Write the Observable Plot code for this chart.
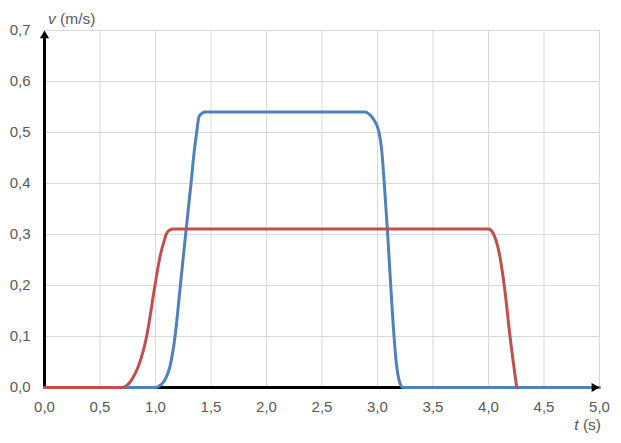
<!DOCTYPE html>
<html>
<head>
<meta charset="utf-8">
<script src="https://cdn.jsdelivr.net/npm/d3@7"></script>
<script src="https://cdn.jsdelivr.net/npm/@observablehq/plot@0.6"></script>
<style>
  html, body { margin: 0; padding: 0; background: #fff; }
</style>
</head>
<body>
<div id="chart"></div>
<script>
// Blue series: t (s), v (m/s)
const blueT = [0, 1.0, 1.025, 1.085, 1.13, 1.176, 1.224, 1.266, 1.32, 1.35, 1.371, 1.392, 1.42, 1.45,
               2.887, 2.93, 2.97, 3.014, 3.038, 3.061, 3.092, 3.119, 3.149, 3.173, 3.194, 3.23, 5.0];
const blueV = [0, 0, 0.002, 0.015, 0.041, 0.1, 0.2, 0.289, 0.4, 0.465, 0.5, 0.531, 0.538, 0.54,
               0.54, 0.535, 0.524, 0.5, 0.465, 0.4, 0.3, 0.2, 0.1, 0.041, 0.015, 0, 0];
// Red series
const redT = [0, 0.70, 0.785, 0.845, 0.92, 0.995, 1.04, 1.08, 1.10, 1.13, 1.16,
              4.0, 4.043, 4.097, 4.142, 4.194, 4.254];
const redV = [0, 0, 0.015, 0.041, 0.1, 0.2, 0.256, 0.289, 0.302, 0.309, 0.311,
              0.311, 0.302, 0.263, 0.2, 0.1, 0];

const xTicks = [0, 0.5, 1, 1.5, 2, 2.5, 3, 3.5, 4, 4.5, 5];
const yTicks = [0, 0.1, 0.2, 0.3, 0.4, 0.5, 0.6, 0.7];
const xTickLabels = ["0,0","0,5","1,0","1,5","2,0","2,5","3,0","3,5","4,0","4,5","5,0"];
const yTickLabels = ["0,0","0,1","0,2","0,3","0,4","0,5","0,6","0,7"];
const yAxisLabel = ["v", " (m/s)"];
const xAxisLabel = ["t", " (s)"];

const blue = blueT.map((t, i) => ({t, v: blueV[i]}));
const red = redT.map((t, i) => ({t, v: redV[i]}));
const xMax = xTicks[xTicks.length - 1];
const yMax = yTicks[yTicks.length - 1];

const chart = Plot.plot({
  width: 621,
  height: 443,
  marginLeft: 44,
  marginRight: 22,
  marginTop: 30,
  marginBottom: 56,
  style: {fontFamily: "'Liberation Sans', Arial, sans-serif", fontSize: "15px", color: "#595959", background: "#fff"},
  x: {domain: [0, xMax], ticks: xTicks, tickSize: 0, tickPadding: 14,
      tickFormat: d => xTickLabels[xTicks.indexOf(d)], label: null},
  y: {domain: [0, yMax], ticks: yTicks, tickSize: 0, tickPadding: 14,
      tickFormat: d => yTickLabels[yTicks.indexOf(d)], label: null},
  marks: [
    Plot.ruleX(xTicks, {stroke: "#d9d9d9", strokeWidth: 1}),
    Plot.ruleY(yTicks, {stroke: "#d9d9d9", strokeWidth: 1}),
    Plot.ruleY([0], {x1: 0, x2: xMax * 0.99, stroke: "black", strokeWidth: 3}),
    Plot.ruleX([0], {y1: 0, y2: yMax * 0.985, stroke: "black", strokeWidth: 3}),
    Plot.line(blue, {x: "t", y: "v", stroke: "#4f81bd", strokeWidth: 3, curve: "monotone-x"}),
    Plot.line(red, {x: "t", y: "v", stroke: "#c0504d", strokeWidth: 3, curve: "monotone-x"}),
    Plot.dot([{x: xMax, y: 0}], {x: "x", y: "y", symbol: "triangle", r: 3.4, fill: "black", stroke: null, rotate: 90, dx: -5.2}),
    Plot.dot([{x: 0, y: yMax}], {x: "x", y: "y", symbol: "triangle", r: 3.4, fill: "black", stroke: null, dy: 5.2})
  ]
});

document.getElementById("chart").appendChild(chart);

const svg = d3.select(chart);
const ty = svg.append("text")
  .attr("x", 48).attr("y", 24)
  .attr("text-anchor", "start")
  .attr("fill", "#595959")
  .style("font-size", "15.5px");
ty.append("tspan").attr("font-style", "italic").text(yAxisLabel[0]);
ty.append("tspan").text(yAxisLabel[1]);

const tx = svg.append("text")
  .attr("x", 601).attr("y", 430)
  .attr("text-anchor", "end")
  .attr("fill", "#595959")
  .style("font-size", "15.5px");
tx.append("tspan").attr("font-style", "italic").text(xAxisLabel[0]);
tx.append("tspan").text(xAxisLabel[1]);
</script>
</body>
</html>
